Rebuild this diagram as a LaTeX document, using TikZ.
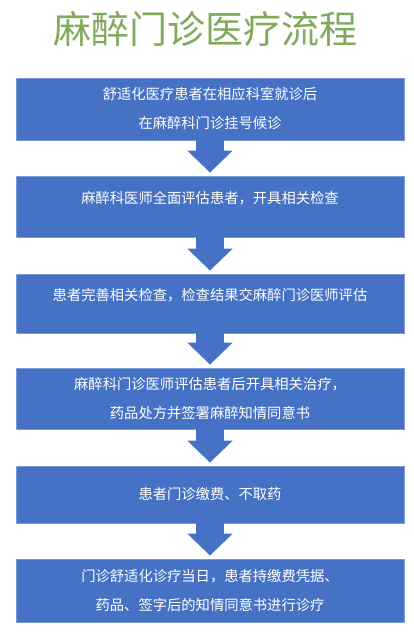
\documentclass[tikz,border=0pt]{standalone}
\usepackage{fontspec}
\setmainfont{Noto Sans CJK SC}
\usetikzlibrary{arrows.meta}
\definecolor{boxblue}{RGB}{70,114,197}
\definecolor{edgeblue}{RGB}{120,155,215}
\definecolor{titlegreen}{RGB}{128,170,92}
\tikzset{
  box/.style={rectangle, fill=boxblue, draw=edgeblue, line width=0.8pt,
    minimum width=388pt, inner sep=0pt, text=white, align=center,
    font=\fontsize{14.3}{29}\selectfont},
  flow/.style={draw=boxblue, line width=28pt,
    -{Triangle[width=44pt,length=22pt]}, shorten >=3pt}
}
\begin{document}
\begin{tikzpicture}[x=1pt,y=-1pt]
\fill[white] (0,0) rectangle (414,636);
\useasboundingbox (0,0) rectangle (414,636);
\node[text=titlegreen, font=\fontsize{38}{40}\selectfont] (title) at (205,29) {麻醉门诊医疗流程};
\node[box, minimum height=62pt] (b1) at (210,109) {舒适化医疗患者在相应科室就诊后\\在麻醉科门诊挂号候诊};
\node[box, minimum height=61pt, text depth=18pt] (b2) at (210,206.5) {麻醉科医师全面评估患者，开具相关检查};
\node[box, minimum height=59pt, text depth=18pt] (b3) at (210,303.5) {患者完善相关检查，检查结果交麻醉门诊医师评估};
\node[box, minimum height=61pt] (b4) at (210,398.5) {麻醉科门诊医师评估患者后开具相关治疗，\\药品处方并签署麻醉知情同意书};
\node[box, minimum height=57pt] (b5) at (210,494.5) {患者门诊缴费、不取药};
\node[box, minimum height=63pt] (b6) at (210,590.5) {门诊舒适化诊疗当日，患者持缴费凭据、\\药品、签字后的知情同意书进行诊疗};
\foreach \a/\b in {b1/b2,b2/b3,b3/b4,b4/b5,b5/b6}{
  \draw[flow] ([yshift=1pt]\a.south) -- (\b.north);
}
\end{tikzpicture}
\end{document}
